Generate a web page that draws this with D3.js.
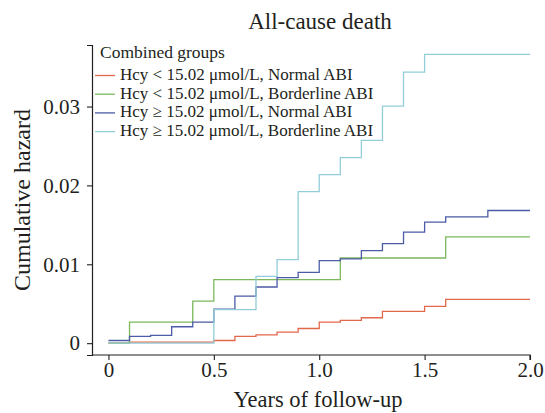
<!DOCTYPE html>
<html>
<head>
<meta charset="utf-8">
<script src="https://cdn.jsdelivr.net/npm/d3@7"></script>
<style>
  body { margin: 0; background: #fff; }
  text { font-family: "Liberation Serif", "DejaVu Serif", serif; fill: #231f20; }
</style>
</head>
<body>
<div class="chart"></div>
<script>
// Step data (time in years, cumulative hazard)
var groupNames = [
  "Hcy < 15.02 \u03bcmol/L, Normal ABI",
  "Hcy < 15.02 \u03bcmol/L, Borderline ABI",
  "Hcy \u2265 15.02 \u03bcmol/L, Normal ABI",
  "Hcy \u2265 15.02 \u03bcmol/L, Borderline ABI"
];
var groupColors = ["#e3674b", "#7bb85d", "#4c5ba7", "#92cdd9"];

var redTimes  = [0, 0.1, 0.5, 0.6, 0.7, 0.8, 0.9, 1.0, 1.1, 1.2, 1.3, 1.5, 1.6, 2.0];
var redVals   = [0, 0.00013, 0.00034, 0.00085, 0.00106, 0.0014, 0.00186, 0.00267, 0.00288, 0.00322, 0.00403, 0.00466, 0.00555, 0.00555];

var greenTimes = [0, 0.1, 0.4, 0.5, 1.1, 1.6, 2.0];
var greenVals  = [0, 0.00267, 0.00534, 0.00805, 0.0108, 0.01347, 0.01347];

var blueTimes = [0, 0.1, 0.2, 0.3, 0.4, 0.5, 0.6, 0.7, 0.8, 0.9, 1.0, 1.1, 1.2, 1.3, 1.4, 1.5, 1.6, 1.8, 2.0];
var blueVals  = [0.00034, 0.00085, 0.001, 0.00208, 0.00267, 0.00432, 0.00597, 0.00712, 0.0083, 0.00898, 0.01047, 0.01068, 0.01174, 0.01263, 0.01407, 0.01534, 0.01602, 0.01682, 0.01682];

var cyanTimes = [0, 0.5, 0.7, 0.8, 0.9, 1.0, 1.1, 1.2, 1.3, 1.4, 1.5, 2.0];
var cyanVals  = [0, 0.00424, 0.00847, 0.0106, 0.0192, 0.02136, 0.02352, 0.02572, 0.03004, 0.03436, 0.03661, 0.03661];

var xTicks = [0, 0.5, 1.0, 1.5, 2.0];
var yTicks = [0, 0.01, 0.02, 0.03];

var width = 545,
  height = 413,
  plotLeft = 92,
  plotRight = 530,
  plotTop = 45,
  plotBottom = 355;

var series = [
  [redTimes, redVals],
  [greenTimes, greenVals],
  [blueTimes, blueVals],
  [cyanTimes, cyanVals]
].map(function(s, i) {
  return {
    name: groupNames[i],
    color: groupColors[i],
    points: s[0].map(function(t, j) { return [t, s[1][j]]; })
  };
});

var svg = d3.select(".chart").append("svg")
  .attr("width", width)
  .attr("height", height);

var x = d3.scaleLinear().domain([-0.078, 2.0]).range([plotLeft, plotRight]);
var y = d3.scaleLinear().domain([-0.0015, 0.0378]).range([plotBottom, plotTop]);

// Axes
var xAxis = svg.append("g")
  .attr("transform", "translate(0," + plotBottom + ")")
  .call(d3.axisBottom(x).tickValues(xTicks).tickSizeOuter(0).tickSize(5).tickPadding(2)
    .tickFormat(function(d) { return d === 0 ? "0" : d3.format(".1f")(d); }));

var yAxis = svg.append("g")
  .attr("transform", "translate(" + plotLeft + ",0)")
  .call(d3.axisLeft(y).tickValues(yTicks).tickSizeOuter(0).tickSize(5).tickPadding(7)
    .tickFormat(function(d) { return d === 0 ? "0" : d3.format(".2f")(d); }));

[xAxis, yAxis].forEach(function(a) {
  a.select(".domain").attr("stroke", "#231f20").attr("stroke-width", 1.2);
  a.selectAll(".tick line").attr("stroke", "#231f20").attr("stroke-width", 1.1);
  a.selectAll(".tick text")
    .style("font-family", '"Liberation Serif", serif')
    .style("font-size", "21px")
    .attr("fill", "#231f20");
});
// x-axis runs from the y-axis to 2.0, with a small end tick
xAxis.select(".domain").attr("d", "M" + plotLeft + ",0H" + plotRight + "V5");

// Curves
var line = d3.line()
  .x(function(d) { return x(d[0]); })
  .y(function(d) { return y(d[1]); })
  .curve(d3.curveStepAfter);

svg.append("g").selectAll("path")
    .data(series)
  .enter().append("path")
    .attr("d", function(d) { return line(d.points); })
    .attr("fill", "none")
    .attr("stroke", function(d) { return d.color; })
    .attr("stroke-width", 1.3);

// Title and axis labels
svg.append("text")
  .attr("x", 320).attr("y", 29)
  .attr("text-anchor", "middle")
  .style("font-size", "23px")
  .text("All-cause death");

svg.append("text")
  .attr("transform", "translate(30,200) rotate(-90)")
  .attr("text-anchor", "middle")
  .style("font-size", "24px")
  .text("Cumulative hazard");

svg.append("text")
  .attr("x", 318).attr("y", 407)
  .attr("text-anchor", "middle")
  .style("font-size", "22.5px")
  .text("Years of follow-up");

// Legend
var legend = svg.append("g");
legend.append("text")
  .attr("x", 100).attr("y", 58)
  .style("font-size", "17.5px")
  .text("Combined groups");

var rows = legend.selectAll("g.row")
    .data(series)
  .enter().append("g")
    .attr("class", "row")
    .attr("transform", function(d, i) { return "translate(0," + (80 + i * 18.7) + ")"; });

rows.append("line")
  .attr("x1", 95).attr("x2", 115)
  .attr("y1", -4.5).attr("y2", -4.5)
  .attr("stroke", function(d) { return d.color; })
  .attr("stroke-width", 1.3);

rows.append("text")
  .attr("x", 120).attr("y", 0)
  .style("font-size", "17px")
  .text(function(d) { return d.name; });
</script>
</body>
</html>
